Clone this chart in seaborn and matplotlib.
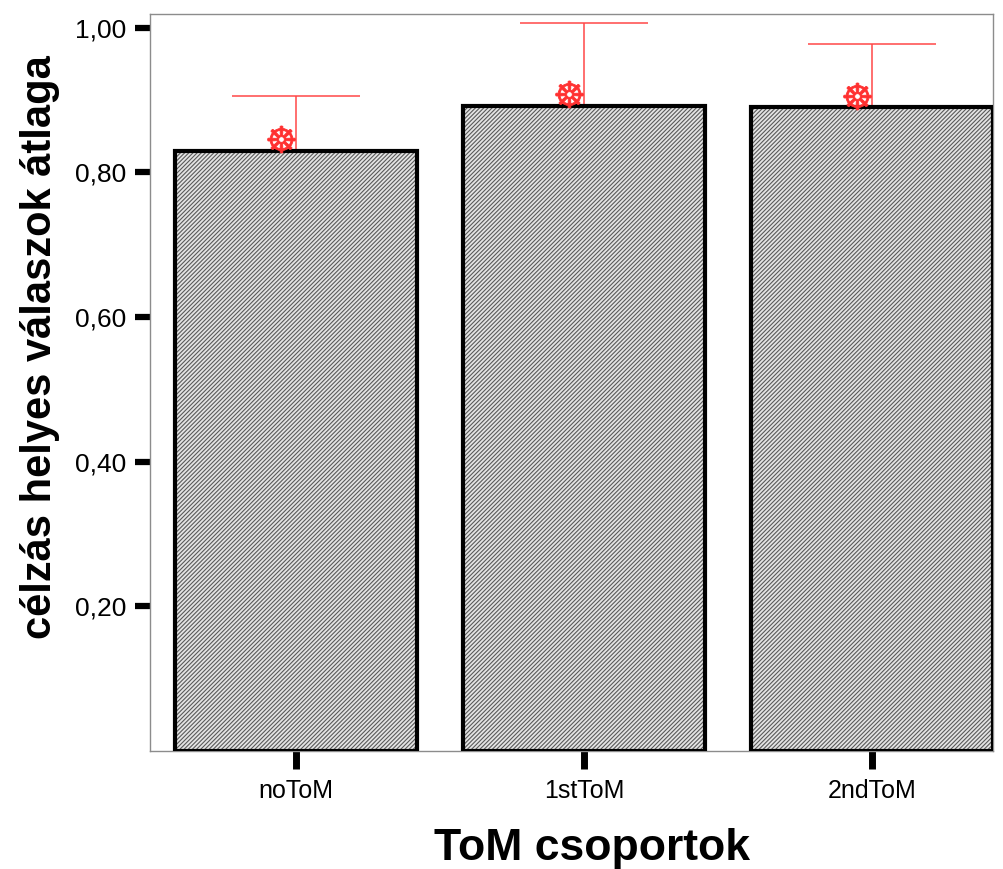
import matplotlib
matplotlib.use("Agg")
import matplotlib.pyplot as plt
import seaborn as sns
import pandas as pd
from matplotlib.patches import Rectangle

# Group labels and values
groups = ["noToM", "1stToM", "2ndToM"]
bar_values = [0.829, 0.892, 0.890]
mean_values = [0.846, 0.909, 0.906]
ci_half = [0.060, 0.097, 0.072]
ytick_values = [0.20, 0.40, 0.60, 0.80, 1.00]
ytick_labels = ["0,20", "0,40", "0,60", "0,80", "1,00"]

sns.set_style("white")
plt.rcParams["font.family"] = ["Liberation Sans", "DejaVu Sans"]
plt.rcParams["text.color"] = "black"
plt.rcParams["axes.labelcolor"] = "black"
plt.rcParams["xtick.color"] = "black"
plt.rcParams["ytick.color"] = "black"
plt.rcParams["hatch.linewidth"] = 0.8

df = pd.DataFrame({"group": groups, "value": bar_values})

fig = plt.figure(figsize=(10.04, 8.69), dpi=100)
ax = fig.add_axes([150 / 1004, 1 - 751 / 869, (993 - 150) / 1004, (751 - 14) / 869])

# error bars sit behind the bars, only their upper part shows
ax.errorbar(range(len(groups)), mean_values, yerr=ci_half, fmt="none",
            ecolor="#ff4848", elinewidth=1.1, capsize=46, capthick=1.1, zorder=1)

sns.barplot(data=df, x="group", y="value", width=0.84, color="#e4e4e4",
            edgecolor="#5a5a5a", linewidth=0, hatch="////////", ax=ax, zorder=2)

for p in ax.patches:
    ax.add_patch(Rectangle(p.get_xy(), p.get_width(), p.get_height(),
                           fill=False, edgecolor="black", linewidth=3, zorder=3))

# mean markers
xs = [i - 0.052 for i in range(len(groups))]
ax.plot(xs, mean_values, linestyle="none", marker="$\u2638$", markersize=20,
        color="#ff3030", markeredgewidth=0.6, markeredgecolor="#ff3030",
        zorder=4, clip_on=False)

ax.set_xlim(-0.507, 2.42)
ax.set_ylim(0, 1.019)
ax.set_yticks(ytick_values)
ax.set_yticklabels(ytick_labels, fontsize=19)
ax.set_xticks(range(len(groups)))
ax.set_xticklabels(groups, fontsize=18)

ax.tick_params(axis="y", length=11, width=4.5, color="black", direction="out", pad=6, left=True)
ax.tick_params(axis="x", length=13, width=5, color="black", direction="out", pad=7, bottom=True)

for s in ax.spines.values():
    s.set_color("#8c8c8c")
    s.set_linewidth(1)

ax.set_xlabel("ToM csoportok", fontsize=32, fontweight="bold")
ax.set_ylabel("célzás helyes válaszok átlaga", fontsize=30, fontweight="bold")
ax.xaxis.set_label_coords(0.524, -0.132)
ax.yaxis.set_label_coords(-0.13, 0.548)
ax.xaxis.label.set_va("center")
ax.yaxis.label.set_va("center")

fig.savefig("out.png", dpi=100)
